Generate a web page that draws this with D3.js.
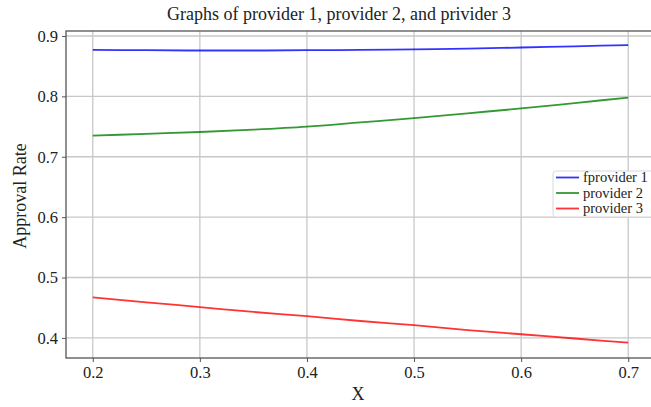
<!DOCTYPE html>
<html>
<head>
<meta charset="utf-8">
<script src="https://cdn.jsdelivr.net/npm/d3@7"></script>
<style>
  body { margin: 0; background: #fff; }
  svg { display: block; font-family: "Liberation Serif", "DejaVu Serif", serif; }
</style>
</head>
<body>
<div id="chart"></div>
<script>
// values
var xs = [0.2, 0.25, 0.3, 0.35, 0.4, 0.45, 0.5, 0.55, 0.6, 0.65, 0.7];
var provider1 = [0.877, 0.8765, 0.876, 0.876, 0.8765, 0.877, 0.878, 0.879, 0.881, 0.883, 0.885];
var provider2 = [0.735, 0.738, 0.741, 0.745, 0.750, 0.757, 0.764, 0.772, 0.780, 0.789, 0.798];
var provider3 = [0.467, 0.459, 0.451, 0.443, 0.436, 0.428, 0.421, 0.413, 0.406, 0.399, 0.392];
var seriesNames = ["fprovider 1", "provider 2", "provider 3"];
var xTicks = [0.2, 0.3, 0.4, 0.5, 0.6, 0.7];
var yTicks = [0.4, 0.5, 0.6, 0.7, 0.8, 0.9];

var W = 651, H = 407;
var pLeft = 66, pTop = 31, pRight = 655, pBottom = 358;
var serif = "'Liberation Serif', 'DejaVu Serif', serif";

var svg = d3.select("#chart").append("svg")
    .attr("width", W)
    .attr("height", H);

var x = d3.scaleLinear().domain([0.175, 0.725]).range([pLeft, pRight]);
var y = d3.scaleLinear().domain([0.3667, 0.9083]).range([pBottom, pTop]);

// grid
svg.append("g").selectAll("line").data(xTicks).enter().append("line")
    .attr("x1", d => x(d)).attr("x2", d => x(d))
    .attr("y1", pTop).attr("y2", pBottom)
    .attr("stroke", "#c8c8c8").attr("stroke-width", 1.3);
svg.append("g").selectAll("line").data(yTicks).enter().append("line")
    .attr("x1", pLeft).attr("x2", pRight)
    .attr("y1", d => y(d)).attr("y2", d => y(d))
    .attr("stroke", "#c8c8c8").attr("stroke-width", 1.3);

// lines
var series = [
    {name: seriesNames[0], vals: provider1, color: "blue"},
    {name: seriesNames[1], vals: provider2, color: "green"},
    {name: seriesNames[2], vals: provider3, color: "red"}
];
var line = d3.line()
    .x((d, i) => x(xs[i]))
    .y(d => y(d))
    .curve(d3.curveMonotoneX);

svg.append("g").selectAll("path").data(series).enter().append("path")
    .attr("d", d => line(d.vals))
    .attr("fill", "none")
    .attr("stroke", d => d.color)
    .attr("stroke-opacity", 0.8)
    .attr("stroke-width", 1.8);

// axes
var xAxis = d3.axisBottom(x).tickValues(xTicks).tickFormat(d3.format(".1f")).tickSize(4).tickPadding(4);
var yAxis = d3.axisLeft(y).tickValues(yTicks).tickFormat(d3.format(".1f")).tickSize(4).tickPadding(4);

var gx = svg.append("g").attr("transform", "translate(0," + pBottom + ")").call(xAxis);
var gy = svg.append("g").attr("transform", "translate(" + pLeft + ",0)").call(yAxis);
[gx, gy].forEach(function(g) {
    g.attr("font-family", serif).attr("font-size", 16.5);
    g.select(".domain").remove();
    g.selectAll(".tick line").attr("stroke", "#555").attr("stroke-width", 1);
    g.selectAll(".tick text").attr("fill", "#222");
});

// frame
svg.append("rect")
    .attr("x", pLeft).attr("y", pTop)
    .attr("width", pRight - pLeft).attr("height", pBottom - pTop)
    .attr("fill", "none").attr("stroke", "#555").attr("stroke-width", 1.3);

// title and labels
svg.append("text")
    .attr("x", 339).attr("y", 20)
    .attr("text-anchor", "middle")
    .style("font-size", "18px").attr("fill", "#222")
    .text("Graphs of provider 1, provider 2, and privider 3");

svg.append("text")
    .attr("x", 358).attr("y", 400)
    .attr("text-anchor", "middle")
    .style("font-size", "18px").attr("fill", "#222")
    .text("X");

svg.append("text")
    .attr("transform", "translate(26,196) rotate(-90)")
    .attr("text-anchor", "middle")
    .style("font-size", "18px").attr("fill", "#222")
    .text("Approval Rate");

// legend
var lg = svg.append("g").attr("transform", "translate(553,171)");
lg.append("rect")
    .attr("width", 104).attr("height", 46)
    .attr("rx", 3).attr("ry", 3)
    .attr("fill", "#fff").attr("fill-opacity", 0.85)
    .attr("stroke", "#d8d8d8").attr("stroke-width", 1);
var items = lg.selectAll("g.item").data(series).enter().append("g")
    .attr("class", "item")
    .attr("transform", (d, i) => "translate(0," + (6.5 + i * 15.5) + ")");
items.append("line")
    .attr("x1", 3).attr("x2", 26)
    .attr("stroke", d => d.color).attr("stroke-opacity", 0.8)
    .attr("stroke-width", 1.8);
items.append("text")
    .attr("x", 30).attr("y", 4.5)
    .style("font-size", "14.5px").attr("fill", "#222")
    .text(d => d.name);
</script>
</body>
</html>
